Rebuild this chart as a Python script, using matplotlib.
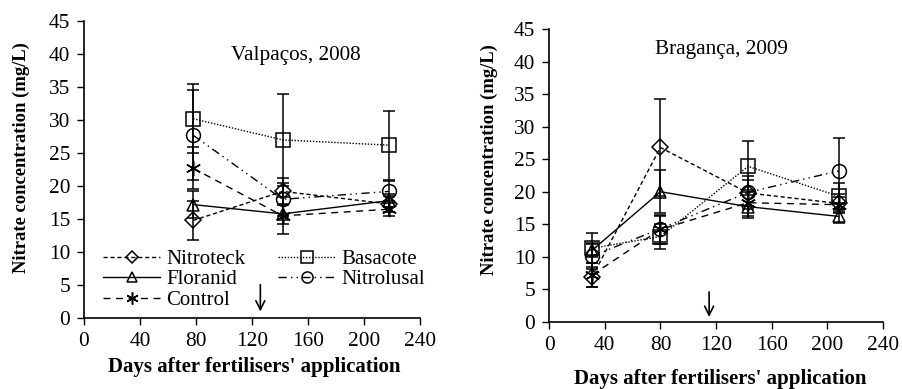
import matplotlib
matplotlib.use("Agg")
import matplotlib.pyplot as plt
from matplotlib.lines import Line2D

plt.rcParams['font.family'] = ['Liberation Serif', 'DejaVu Serif']

names = ["Nitroteck", "Floranid", "Control", "Basacote", "Nitrolusal"]

# Valpacos, 2008
days_v = [78, 142, 218]
val_v = {
    "Nitroteck": [14.8, 19.2, 17.3],
    "Floranid": [17.2, 15.8, 17.8],
    "Control": [22.7, 15.5, 16.5],
    "Basacote": [30.2, 27.0, 26.2],
    "Nitrolusal": [27.7, 18.0, 19.2],
}
err_v = {
    "Nitroteck": [3.0, 2.0, 1.2],
    "Floranid": [2.0, 1.5, 1.0],
    "Control": [3.2, 2.8, 1.0],
    "Basacote": [5.2, 7.0, 5.2],
    "Nitrolusal": [6.8, 2.5, 1.5],
}

# Braganca, 2009
days_b = [31, 80, 143, 208]
val_b = {
    "Nitroteck": [6.9, 26.8, 19.8, 18.2],
    "Floranid": [11.0, 20.0, 17.7, 16.2],
    "Control": [7.2, 14.2, 18.3, 18.0],
    "Basacote": [11.3, 13.1, 23.9, 19.3],
    "Nitrolusal": [10.1, 14.3, 19.9, 23.2],
}
err_b = {
    "Nitroteck": [1.5, 7.4, 2.0, 1.5],
    "Floranid": [1.0, 3.3, 1.8, 1.0],
    "Control": [1.8, 2.2, 2.0, 1.2],
    "Basacote": [2.3, 1.9, 3.9, 2.0],
    "Nitrolusal": [2.0, 2.0, 2.5, 5.1],
}

styles = {
    "Nitroteck": dict(ls=(0, (3, 2)), marker="D", ms=8),
    "Floranid": dict(ls="-", marker="^", ms=9),
    "Control": dict(ls=(0, (5, 4)), marker=(6, 2, 0), ms=11),
    "Basacote": dict(ls=(0, (1, 1.2)), marker="s", ms=10),
    "Nitrolusal": dict(ls=(0, (6, 3, 1, 3, 1, 3)), marker="o", ms=10),
}

fig = plt.figure(figsize=(9.03, 3.89), dpi=100)
ax1 = fig.add_axes([0.093, 0.182, 0.372, 0.764])
ax2 = fig.add_axes([0.608, 0.173, 0.370, 0.752])


def draw(ax, days, vals, errs):
    for n in names:
        st = styles[n]
        ax.errorbar(days, vals[n], yerr=errs[n], color="black", lw=1.0,
                    ls=st["ls"], marker=st["marker"], ms=st["ms"],
                    mfc="none", mec="black", mew=1.1,
                    ecolor="black", elinewidth=1.1, capsize=4, capthick=1.1)
    ax.set_xlim(0, 240)
    ax.set_ylim(0, 45)
    ax.set_xticks(range(0, 241, 40))
    ax.set_yticks(range(0, 46, 5))
    ax.spines["top"].set_visible(False)
    ax.spines["right"].set_visible(False)
    ax.spines["left"].set_linewidth(1.2)
    ax.spines["bottom"].set_linewidth(1.2)
    ax.tick_params(direction="out", length=5, width=1, labelsize=15.4,
                   color="black", pad=5)
    ax.set_ylabel("Nitrate concentration (mg/L)", fontsize=13.4,
                  fontweight="bold", va="center")
    ax.set_xlabel("Days after fertilisers' application", fontsize=15,
                  fontweight="bold", va="center")


draw(ax1, days_v, val_v, err_v)
draw(ax2, days_b, val_b, err_b)

ax1.yaxis.set_label_coords(-0.185, 0.54)
ax2.yaxis.set_label_coords(-0.18, 0.553)
ax1.xaxis.set_label_coords(0.506, -0.165)
ax2.xaxis.set_label_coords(0.512, -0.195)

ax1.text(151, 39.8, "Valpaços, 2008", fontsize=15.3, ha="center", va="center")
ax2.text(124, 41.8, "Bragança, 2009", fontsize=15.3, ha="center", va="center")

ax1.annotate("", xy=(126, 0.6), xytext=(126, 5.5),
             arrowprops=dict(arrowstyle="->", color="black", lw=1.2,
                             mutation_scale=16))
ax2.annotate("", xy=(115, 0.3), xytext=(115, 5.0),
             arrowprops=dict(arrowstyle="->", color="black", lw=1.2,
                             mutation_scale=16))

handles = [Line2D([], [], color="black", lw=1.0, ls=styles[n]["ls"],
                  marker=styles[n]["marker"], ms=styles[n]["ms"] * 0.8,
                  mfc="none", mec="black", mew=1.1) for n in names]
ax1.legend(handles, names, ncol=2, loc="upper left",
           bbox_to_anchor=(0.058, 0.232), frameon=False, fontsize=15,
           handlelength=2.7, handletextpad=0.3, labelspacing=0.05,
           columnspacing=1.6, borderpad=0.0, borderaxespad=0.0)

fig.savefig("out.png", dpi=100)
